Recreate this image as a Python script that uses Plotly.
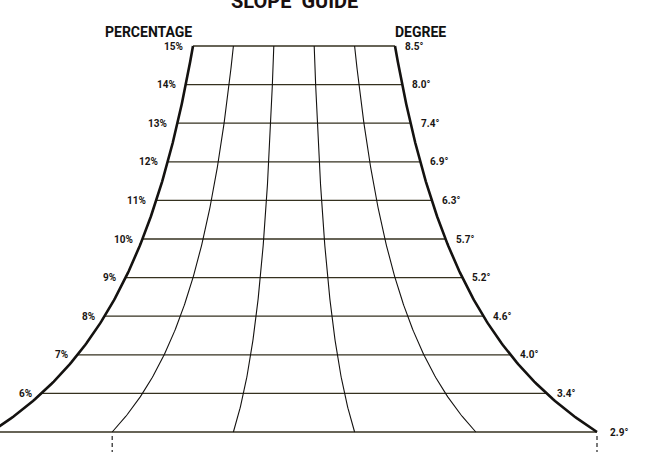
import numpy as np
import plotly.graph_objects as go

# ---- data ----
percent = [15, 14, 13, 12, 11, 10, 9, 8, 7, 6, 5]
percent_labels = ["15%", "14%", "13%", "12%", "11%", "10%", "9%", "8%", "7%", "6%", ""]
degree_labels = ["8.5°", "8.0°", "7.4°", "6.9°", "6.3°", "5.7°", "5.2°", "4.6°", "4.0°", "3.4°", "2.9°"]
column_fractions = [0.0, 0.2, 0.4, 0.6, 0.8, 1.0]
title = "SLOPE  GUIDE"
left_header = "PERCENTAGE"
right_header = "DEGREE"

p_top = max(percent)
p_bot = min(percent)

# pixel mapping of the axes (layout only)
X0, XS = 294.0, 202.0          # centre pixel, pixels per unit width
Y0, YS = 46.0, 38.6            # pixel of top rung, pixels per percent


def xpos(frac, p):
    # width of the guide is inversely proportional to the slope percentage
    return (frac - 0.5) * p_top / np.asarray(p, dtype=float)


def pix_y(py):
    return p_top - (py - Y0) / YS


FONT = "Roboto, Liberation Sans, Arial, sans-serif"
fig = go.Figure()

# horizontal rungs
for p in percent:
    xl, xr = xpos(0.0, p), xpos(1.0, p)
    fig.add_trace(go.Scatter(x=[xl, xr], y=[p, p], mode="lines",
                             line=dict(color="#35311f", width=1.3),
                             hoverinfo="skip", showlegend=False))

# curved verticals
pp = np.linspace(p_bot, p_top, 200)
for f in column_fractions:
    edge = f in (0.0, 1.0)
    fig.add_trace(go.Scatter(x=xpos(f, pp), y=pp, mode="lines",
                             line=dict(color="#141210", width=2.6 if edge else 1.1),
                             hoverinfo="skip", showlegend=False))

# dashed ticks below the base
for f in (0.2, 1.0):
    xb = float(xpos(f, p_bot))
    fig.add_trace(go.Scatter(x=[xb, xb], y=[pix_y(436), pix_y(452)], mode="lines",
                             line=dict(color="#222", width=1.2, dash="4px,3px"),
                             hoverinfo="skip", showlegend=False))

ann = []
for p, lab in zip(percent, percent_labels):
    if lab:
        ann.append(dict(x=float(xpos(0.0, p)), y=p, text=f"<b>{lab}</b>", showarrow=False,
                        xanchor="right", yanchor="middle", xshift=-8,
                        font=dict(family=FONT, size=10, color="#1a1614")))
for p, lab in zip(percent, degree_labels):
    ann.append(dict(x=float(xpos(1.0, p)), y=p, text=f"<b>{lab}</b>", showarrow=False,
                    xanchor="left", yanchor="middle", xshift=8 if p > p_bot else 11,
                    font=dict(family=FONT, size=10, color="#1a1614")))

ann.append(dict(x=float(xpos(0.0, p_top)), y=pix_y(31.5), text=f"<b>{left_header}</b>", showarrow=False,
                xanchor="right", yanchor="middle", xshift=1,
                font=dict(family=FONT, size=14, color="#111")))
ann.append(dict(x=float(xpos(1.0, p_top)), y=pix_y(32), text=f"<b>{right_header}</b>", showarrow=False,
                xanchor="left", yanchor="middle", xshift=-2,
                font=dict(family=FONT, size=14, color="#111")))
ann.append(dict(x=0.0, y=pix_y(1), text=f"<b>{title}</b>", showarrow=False,
                xanchor="center", yanchor="middle",
                font=dict(family=FONT, size=20, color="#1a1010")))

fig.update_layout(
    width=672, height=452,
    margin=dict(l=0, r=0, t=0, b=0),
    paper_bgcolor="white", plot_bgcolor="white",
    xaxis=dict(range=[-X0 / XS, (672 - X0) / XS], visible=False, fixedrange=True),
    yaxis=dict(range=[pix_y(452), pix_y(0)], visible=False, fixedrange=True),
    annotations=ann,
    showlegend=False,
)

fig.write_html("out.html", config={"displayModeBar": False},
               post_script="document.body.style.margin='0';document.body.style.overflow='hidden';")
